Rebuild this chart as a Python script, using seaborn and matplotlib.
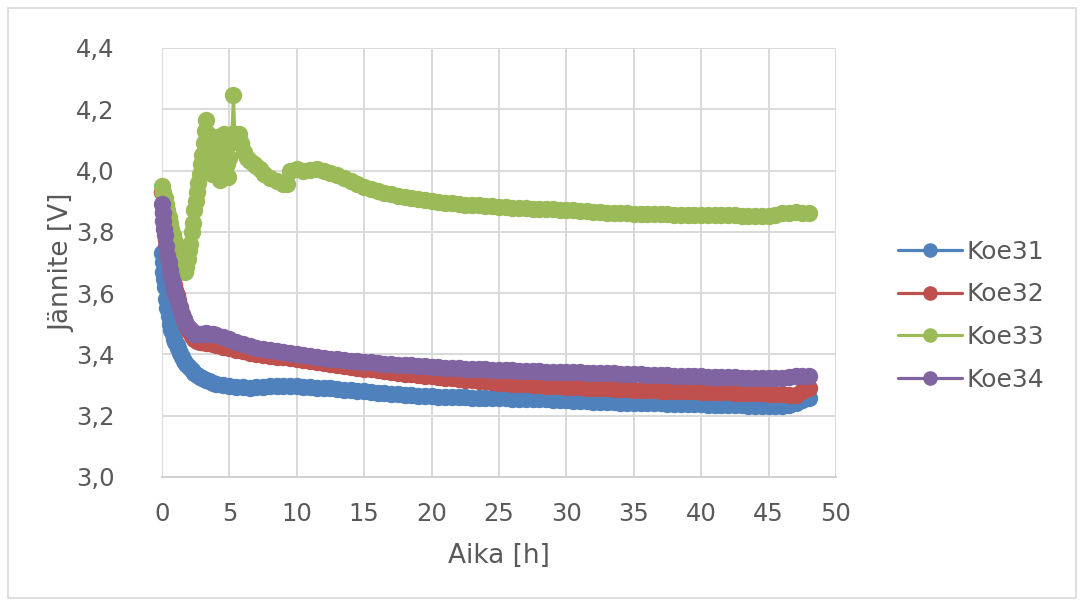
import matplotlib
matplotlib.use("Agg")
import numpy as np
import pandas as pd
import matplotlib.pyplot as plt
import seaborn as sns
from matplotlib.patches import Rectangle

# Mittausajat [h] kokeille 31, 32 ja 34
aika = [
    0, 0.05, 0.1, 0.15, 0.2, 0.3, 0.4, 0.5, 0.6, 0.7,
    0.8, 0.9, 1.0, 1.1, 1.2, 1.35, 1.5, 1.65, 1.8, 2.0,
    2.2, 2.4, 2.6, 2.8, 3.0, 3.25, 3.5, 3.75, 4.0, 4.5,
    5.0, 5.5, 6.0, 6.5, 7.0, 7.5, 8.0, 8.5, 9.0, 9.5,
    10.0, 10.5, 11.0, 11.5, 12.0, 12.5, 13.0, 13.5, 14.0, 14.5,
    15.0, 15.5, 16.0, 16.5, 17.0, 17.5, 18.0, 18.5, 19.0, 19.5,
    20.0, 20.5, 21.0, 21.5, 22.0, 22.5, 23.0, 23.5, 24.0, 24.5,
    25.0, 25.5, 26.0, 26.5, 27.0, 27.5, 28.0, 28.5, 29.0, 29.5,
    30.0, 30.5, 31.0, 31.5, 32.0, 32.5, 33.0, 33.5, 34.0, 34.5,
    35.0, 35.5, 36.0, 36.5, 37.0, 37.5, 38.0, 38.5, 39.0, 39.5,
    40.0, 40.5, 41.0, 41.5, 42.0, 42.5, 43.0, 43.5, 44.0, 44.5,
    45.0, 45.5, 46.0, 46.5, 47.0, 47.5, 48.0,
]

koe31 = [
    3.73, 3.70, 3.67, 3.645, 3.62, 3.58, 3.55, 3.525, 3.50, 3.48,
    3.465, 3.45, 3.44, 3.43, 3.42, 3.405, 3.39, 3.38, 3.37, 3.36,
    3.35, 3.34, 3.333, 3.327, 3.322, 3.317, 3.312, 3.308, 3.305, 3.30,
    3.297, 3.295, 3.293, 3.292, 3.293, 3.295, 3.297, 3.298, 3.298, 3.297,
    3.296, 3.295, 3.294, 3.292, 3.291, 3.289, 3.287, 3.285, 3.283, 3.281,
    3.279, 3.277, 3.275, 3.273, 3.271, 3.27, 3.268, 3.267, 3.265, 3.264,
    3.263, 3.262, 3.261, 3.261, 3.26, 3.26, 3.259, 3.259, 3.258, 3.258,
    3.257, 3.257, 3.256, 3.256, 3.255, 3.255, 3.254, 3.253, 3.252, 3.251,
    3.25, 3.249, 3.248, 3.247, 3.246, 3.245, 3.245, 3.244, 3.243, 3.243,
    3.242, 3.241, 3.241, 3.24, 3.24, 3.239, 3.239, 3.238, 3.238, 3.237,
    3.237, 3.236, 3.236, 3.235, 3.235, 3.234, 3.234, 3.233, 3.233, 3.232,
    3.232, 3.232, 3.233, 3.236, 3.242, 3.25, 3.258,
]

koe32 = [
    3.93, 3.895, 3.865, 3.84, 3.815, 3.775, 3.745, 3.715, 3.69, 3.67,
    3.648, 3.628, 3.61, 3.593, 3.577, 3.555, 3.533, 3.513, 3.495, 3.475,
    3.46, 3.45, 3.445, 3.442, 3.44, 3.438, 3.436, 3.433, 3.43, 3.425,
    3.42, 3.415, 3.41, 3.406, 3.402, 3.399, 3.396, 3.393, 3.39, 3.387,
    3.384, 3.381, 3.378, 3.375, 3.372, 3.369, 3.366, 3.363, 3.36, 3.357,
    3.354, 3.351, 3.348, 3.345, 3.342, 3.34, 3.337, 3.335, 3.332, 3.33,
    3.328, 3.326, 3.324, 3.322, 3.32, 3.318, 3.316, 3.314, 3.312, 3.31,
    3.308, 3.306, 3.305, 3.303, 3.302, 3.30, 3.299, 3.298, 3.297, 3.296,
    3.295, 3.294, 3.293, 3.292, 3.291, 3.29, 3.289, 3.288, 3.287, 3.286,
    3.285, 3.284, 3.284, 3.283, 3.282, 3.281, 3.281, 3.28, 3.279, 3.279,
    3.278, 3.277, 3.277, 3.276, 3.276, 3.275, 3.274, 3.274, 3.273, 3.273,
    3.272, 3.271, 3.27, 3.268, 3.268, 3.28, 3.29,
]

koe34 = [
    3.89, 3.86, 3.835, 3.81, 3.79, 3.755, 3.725, 3.70, 3.675, 3.655,
    3.635, 3.615, 3.60, 3.585, 3.57, 3.55, 3.53, 3.515, 3.50, 3.485,
    3.475, 3.468, 3.465, 3.466, 3.468, 3.469, 3.468, 3.466, 3.463, 3.457,
    3.45, 3.442, 3.435, 3.428, 3.422, 3.417, 3.413, 3.41, 3.407, 3.404,
    3.40, 3.397, 3.394, 3.391, 3.388, 3.386, 3.384, 3.382, 3.38, 3.378,
    3.376, 3.374, 3.372, 3.37, 3.368, 3.367, 3.365, 3.364, 3.362, 3.361,
    3.36, 3.358, 3.357, 3.356, 3.355, 3.354, 3.353, 3.352, 3.351, 3.35,
    3.349, 3.348, 3.348, 3.347, 3.346, 3.346, 3.345, 3.344, 3.344, 3.343,
    3.342, 3.341, 3.341, 3.34, 3.339, 3.339, 3.338, 3.338, 3.337, 3.337,
    3.336, 3.335, 3.334, 3.334, 3.333, 3.332, 3.331, 3.33, 3.33, 3.329,
    3.328, 3.327, 3.327, 3.326, 3.325, 3.325, 3.324, 3.323, 3.323, 3.322,
    3.322, 3.322, 3.323, 3.326, 3.33, 3.331, 3.33,
]

# Koe33 mitattu omilla ajoillaan (heiluntaa alussa)
aika33 = [
    0, 0.1, 0.2, 0.3, 0.4, 0.5, 0.6, 0.7, 0.8, 0.9,
    1.0, 1.1, 1.2, 1.3, 1.4, 1.5, 1.6, 1.7, 1.8, 1.9,
    2.0, 2.1, 2.2, 2.3, 2.4, 2.5, 2.6, 2.7, 2.8, 2.9,
    3.0, 3.1, 3.2, 3.3, 3.4, 3.5, 3.6, 3.7, 3.8, 3.9,
    4.0, 4.1, 4.2, 4.3, 4.4, 4.5, 4.6, 4.7, 4.8, 4.9,
    5.0, 5.1, 5.2, 5.3, 5.4, 5.5, 5.7, 5.9, 6.1, 6.3,
    6.5, 6.8, 7.0, 7.3, 7.6, 8.0, 8.5, 9.0, 9.3, 9.5,
    10.0, 10.5, 11.0, 11.5, 12.0, 12.5, 13.0, 13.5, 14.0, 14.5,
    15.0, 15.5, 16.0, 16.5, 17.0, 17.5, 18.0, 18.5, 19.0, 19.5,
    20.0, 20.5, 21.0, 21.5, 22.0, 22.5, 23.0, 23.5, 24.0, 24.5,
    25.0, 25.5, 26.0, 26.5, 27.0, 27.5, 28.0, 28.5, 29.0, 29.5,
    30.0, 30.5, 31.0, 31.5, 32.0, 32.5, 33.0, 33.5, 34.0, 34.5,
    35.0, 35.5, 36.0, 36.5, 37.0, 37.5, 38.0, 38.5, 39.0, 39.5,
    40.0, 40.5, 41.0, 41.5, 42.0, 42.5, 43.0, 43.5, 44.0, 44.5,
    45.0, 45.5, 46.0, 46.5, 47.0, 47.5, 48.0,
]

koe33 = [
    3.95, 3.93, 3.91, 3.89, 3.87, 3.85, 3.83, 3.81, 3.79, 3.775,
    3.76, 3.745, 3.73, 3.715, 3.70, 3.685, 3.675, 3.67, 3.685, 3.71,
    3.74, 3.76, 3.80, 3.83, 3.87, 3.90, 3.93, 3.96, 3.99, 4.02,
    4.05, 4.09, 4.13, 4.165, 4.12, 4.08, 4.03, 3.99, 4.04, 4.09,
    4.11, 4.06, 4.01, 3.97, 4.02, 4.08, 4.12, 4.07, 4.02, 3.98,
    4.04, 4.09, 4.12, 4.245, 4.12, 4.10, 4.12, 4.09, 4.06, 4.04,
    4.03, 4.02, 4.015, 4.005, 3.99, 3.975, 3.965, 3.955, 3.955, 4.0,
    4.005, 4.0, 4.003, 4.004, 4.0, 3.993, 3.985, 3.975, 3.965, 3.955,
    3.947, 3.94, 3.933, 3.927, 3.922, 3.918, 3.914, 3.91, 3.907, 3.904,
    3.90, 3.898, 3.895, 3.893, 3.891, 3.889, 3.887, 3.886, 3.884, 3.883,
    3.881, 3.88, 3.879, 3.878, 3.877, 3.876, 3.875, 3.874, 3.873, 3.872,
    3.871, 3.87, 3.868, 3.867, 3.865, 3.864, 3.863, 3.862, 3.861, 3.86,
    3.859, 3.858, 3.858, 3.857, 3.857, 3.857, 3.856, 3.856, 3.856, 3.856,
    3.856, 3.855, 3.855, 3.855, 3.854, 3.854, 3.853, 3.852, 3.851, 3.851,
    3.853, 3.856, 3.86, 3.863, 3.865, 3.863, 3.861,
]

sarjat = ["Koe31", "Koe32", "Koe33", "Koe34"]
varit = ["#4F81BD", "#C0504D", "#9BBB59", "#8064A2"]

x_ticks = [0, 5, 10, 15, 20, 25, 30, 35, 40, 45, 50]
y_ticks = [3.0, 3.2, 3.4, 3.6, 3.8, 4.0, 4.2, 4.4]
y_tick_labels = ["3,0", "3,2", "3,4", "3,6", "3,8", "4,0", "4,2", "4,4"]

# pitka taulukko seabornia varten
df = pd.concat([
    pd.DataFrame({"aika": aika, "jannite": koe31, "koe": "Koe31"}),
    pd.DataFrame({"aika": aika, "jannite": koe32, "koe": "Koe32"}),
    pd.DataFrame({"aika": aika33, "jannite": koe33, "koe": "Koe33"}),
    pd.DataFrame({"aika": aika, "jannite": koe34, "koe": "Koe34"}),
], ignore_index=True)

sns.set_theme(style="white")
plt.rcParams["font.family"] = ["DejaVu Sans"]
harmaa = "#595959"

fig = plt.figure(figsize=(10.84, 6.06), dpi=100)
ax = fig.add_axes([0.1494, 0.2129, 0.6218, 0.7079])

for nimi, vari in zip(sarjat, varit):
    sns.lineplot(data=df[df["koe"] == nimi], x="aika", y="jannite", color=vari,
                 marker="o", markersize=12.5, markeredgewidth=0, linewidth=2.3,
                 sort=False, estimator=None, label=nimi, ax=ax)

for ln in ax.get_lines():
    ln.set_clip_on(False)

ax.set_xlim(0, 50)
ax.set_ylim(3.0, 4.4)
ax.set_xticks(x_ticks)
ax.set_xticklabels([str(v) for v in x_ticks])
ax.set_yticks(y_ticks)
ax.set_yticklabels(y_tick_labels)
ax.tick_params(axis="both", length=0, labelsize=17.5, labelcolor=harmaa)
ax.tick_params(axis="x", pad=18)
ax.tick_params(axis="y", pad=34)

ax.grid(True, color="#D9D9D9", linewidth=1.4)
ax.set_axisbelow(True)
for s in ["top", "right", "left"]:
    ax.spines[s].set_visible(False)
ax.spines["bottom"].set_color("#D0D0D0")
ax.spines["bottom"].set_linewidth(1.4)

ax.set_xlabel("Aika [h]", fontsize=19, color=harmaa, va="center")
ax.set_ylabel("Jännite [V]", fontsize=19, color=harmaa, va="center")
ax.xaxis.set_label_coords(0.5, -0.184)
ax.yaxis.set_label_coords(-0.148, 0.5)

leg = ax.legend(loc="center left", bbox_to_anchor=(898 / 1084, 0.479),
                bbox_transform=fig.transFigure, frameon=False, fontsize=18,
                labelcolor=harmaa, handlelength=2.55, handletextpad=0.2,
                labelspacing=0.75, borderpad=0, borderaxespad=0)
for h in leg.legend_handles:
    h.set_markersize(10.5)

# kaavion reunaviiva
fig.add_artist(Rectangle((8 / 1084, 8 / 606), 1068 / 1084, 590 / 606,
                         transform=fig.transFigure, fill=False,
                         edgecolor="#D9D9D9", linewidth=1.2))

fig.savefig("out.png", dpi=100)
